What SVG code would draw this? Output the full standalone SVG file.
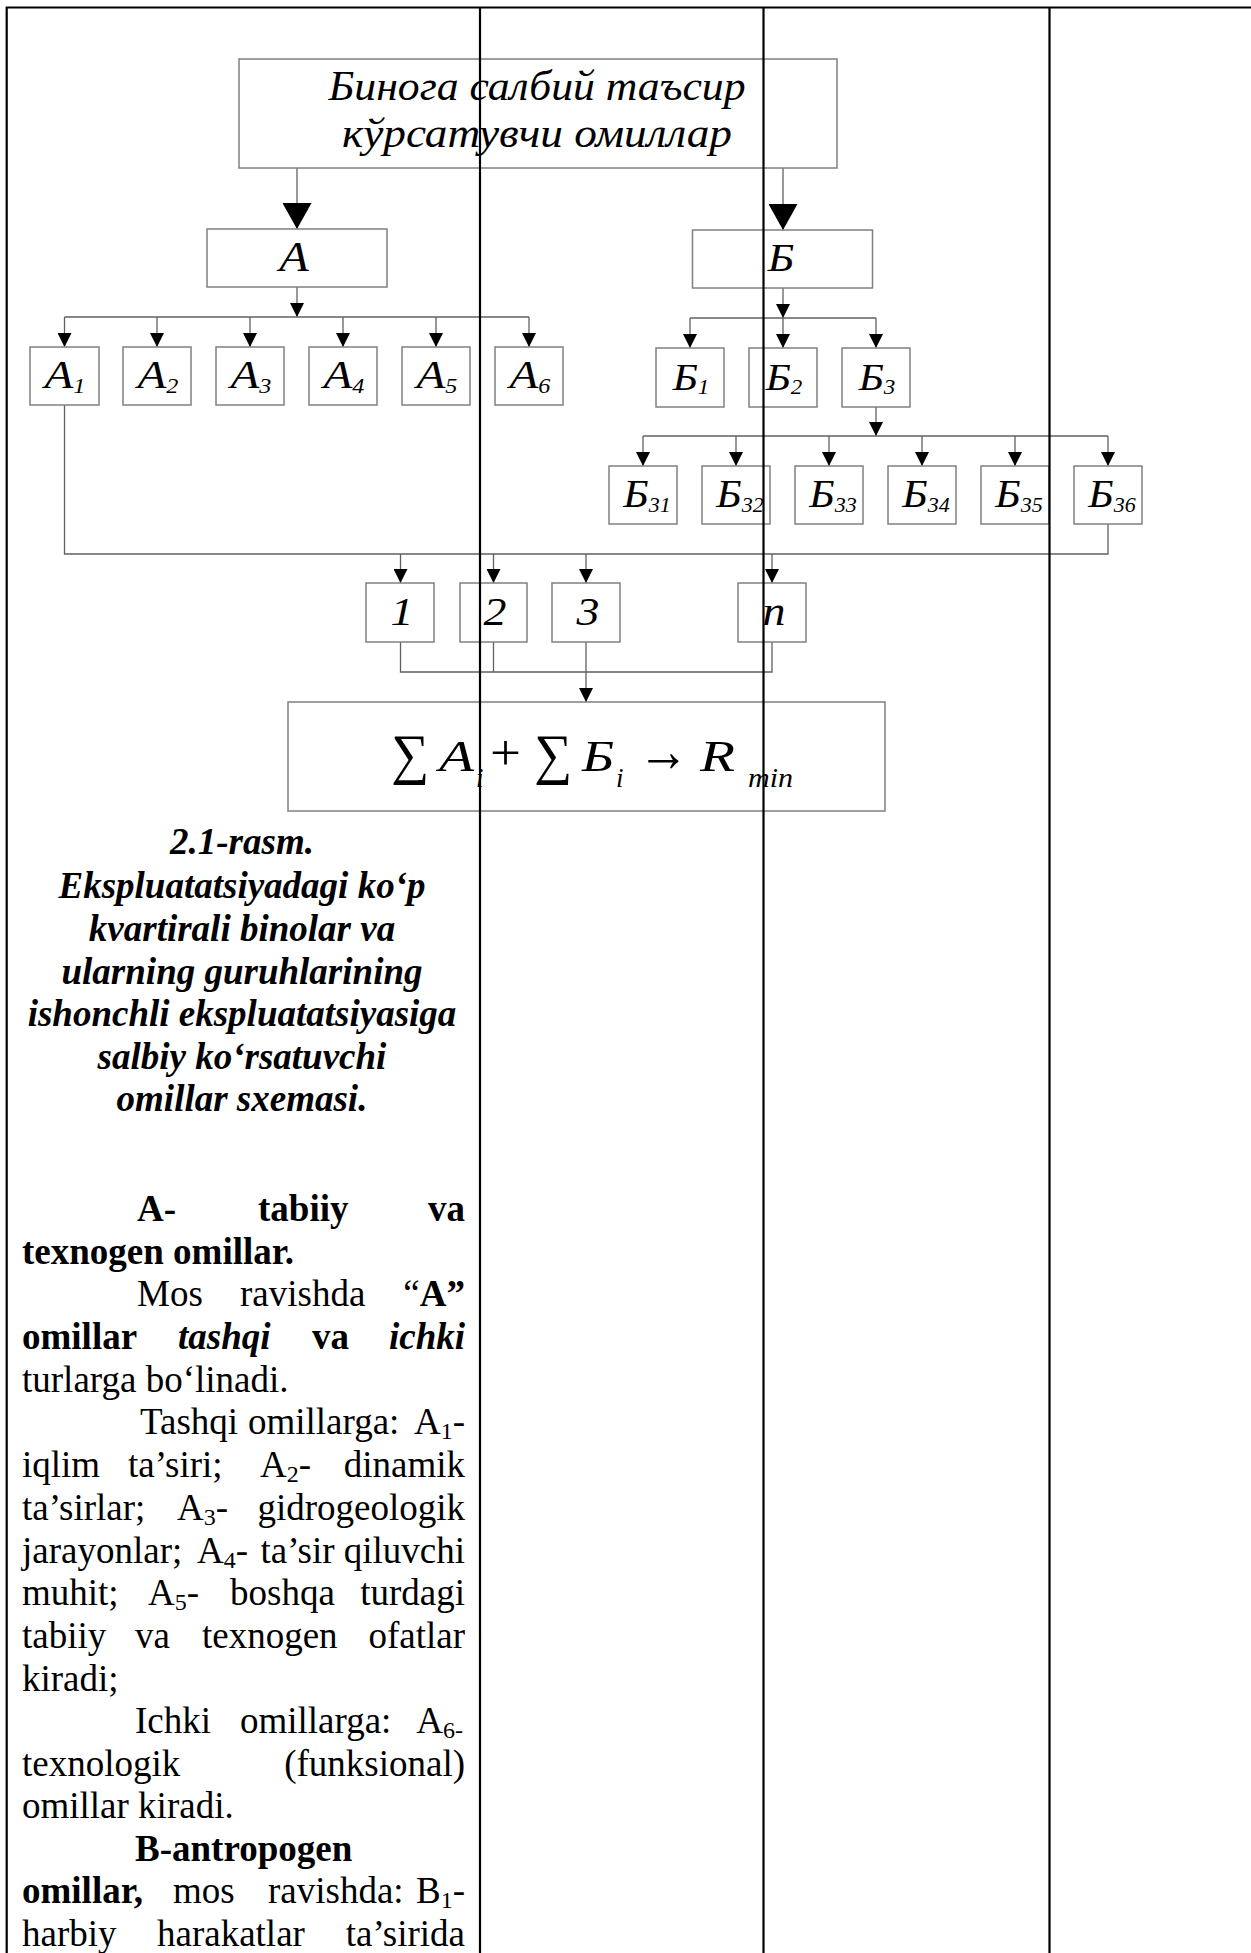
<svg xmlns="http://www.w3.org/2000/svg" width="1251" height="1953" viewBox="0 0 1251 1953">
<style>
.box{fill:#fff;stroke:#808080;stroke-width:1.5}
.con{fill:none;stroke:#606060;stroke-width:1.3}
.grid{fill:none;stroke:#000;stroke-width:2.2}
.lbl{font-family:"Liberation Serif","Times New Roman",serif;font-style:italic;fill:#000}
.mid{text-anchor:middle}
.cap{font-family:"Liberation Serif","Times New Roman",serif;font-size:37px;font-weight:bold;font-style:italic;text-anchor:middle;fill:#000}
.body{font-family:"Liberation Serif","Times New Roman",serif;font-size:37px;fill:#000}
.b{font-weight:bold}
.i{font-style:italic}
.e{text-anchor:end}
.sym{font-family:"Liberation Serif","DejaVu Serif",serif;fill:#000}
</style>
<defs>
<marker id="sa" viewBox="0 0 14 14" refX="14" refY="7" markerWidth="14" markerHeight="14" markerUnits="userSpaceOnUse" orient="auto"><path d="M0,0 L14,7 L0,14 z" fill="#000"/></marker>
<marker id="ba" viewBox="0 0 26 29" refX="26" refY="14.5" markerWidth="26" markerHeight="29" markerUnits="userSpaceOnUse" orient="auto"><path d="M0,0 L26,14.5 L0,29 z" fill="#000"/></marker>
</defs>

<g id="connectors">
<path class="con" d="M297,168 V229" marker-end="url(#ba)"/>
<path class="con" d="M783,168 V230" marker-end="url(#ba)"/>
<path class="con" d="M297,287 V317" marker-end="url(#sa)"/>
<path class="con" d="M64.5,317 H529"/>
<path class="con" d="M64.5,317 V347" marker-end="url(#sa)"/>
<path class="con" d="M157,317 V347" marker-end="url(#sa)"/>
<path class="con" d="M250,317 V347" marker-end="url(#sa)"/>
<path class="con" d="M343,317 V347" marker-end="url(#sa)"/>
<path class="con" d="M436,317 V347" marker-end="url(#sa)"/>
<path class="con" d="M529,317 V347" marker-end="url(#sa)"/>
<path class="con" d="M783,288 V318" marker-end="url(#sa)"/>
<path class="con" d="M690,318 H876"/>
<path class="con" d="M690,318 V348" marker-end="url(#sa)"/>
<path class="con" d="M783,318 V348" marker-end="url(#sa)"/>
<path class="con" d="M876,318 V348" marker-end="url(#sa)"/>
<path class="con" d="M876,407 V436" marker-end="url(#sa)"/>
<path class="con" d="M643,436 H1108"/>
<path class="con" d="M643,436 V466" marker-end="url(#sa)"/>
<path class="con" d="M736,436 V466" marker-end="url(#sa)"/>
<path class="con" d="M829,436 V466" marker-end="url(#sa)"/>
<path class="con" d="M922,436 V466" marker-end="url(#sa)"/>
<path class="con" d="M1015,436 V466" marker-end="url(#sa)"/>
<path class="con" d="M1108,436 V466" marker-end="url(#sa)"/>
<path class="con" d="M64.5,405 V554 H1108 V524"/>
<path class="con" d="M400.5,554 V583" marker-end="url(#sa)"/>
<path class="con" d="M493.5,554 V583" marker-end="url(#sa)"/>
<path class="con" d="M586,554 V583" marker-end="url(#sa)"/>
<path class="con" d="M772,554 V583" marker-end="url(#sa)"/>
<path class="con" d="M400.5,642 V672 H772 V642 M493.5,642 V672"/>
<path class="con" d="M586,642 V702" marker-end="url(#sa)"/>
</g>

<g id="node-top">
<rect class="box" x="239" y="59" width="598" height="109"/>
<text class="lbl mid" x="537" y="100" font-size="43" textLength="417" lengthAdjust="spacingAndGlyphs">Бинога салбий таъсир</text>
<text class="lbl mid" x="537" y="147" font-size="43" textLength="390" lengthAdjust="spacingAndGlyphs">кўрсатувчи омиллар</text>
</g>
<g id="node-A">
<rect class="box" x="207" y="229" width="180" height="58"/>
<text class="lbl mid" font-size="42" transform="translate(294,271) scale(1.15,1)">А</text>
</g>
<g id="node-B">
<rect class="box" x="692.5" y="230" width="180" height="58"/>
<text class="lbl mid" font-size="40" transform="translate(781,271) scale(1.12,1)">Б</text>
</g>

<g id="node-A1"><rect class="box" x="30" y="347" width="69" height="58"/><text class="lbl mid" font-size="41" transform="translate(65,388) scale(1.15,1)">А<tspan font-size="21" dy="5">1</tspan></text></g>
<g id="node-A2"><rect class="box" x="123" y="347" width="68" height="58"/><text class="lbl mid" font-size="41" transform="translate(158,388) scale(1.15,1)">А<tspan font-size="21" dy="5">2</tspan></text></g>
<g id="node-A3"><rect class="box" x="216" y="347" width="68" height="58"/><text class="lbl mid" font-size="41" transform="translate(251,388) scale(1.15,1)">А<tspan font-size="21" dy="5">3</tspan></text></g>
<g id="node-A4"><rect class="box" x="309" y="347" width="68" height="58"/><text class="lbl mid" font-size="41" transform="translate(344,388) scale(1.15,1)">А<tspan font-size="21" dy="5">4</tspan></text></g>
<g id="node-A5"><rect class="box" x="402" y="347" width="68" height="58"/><text class="lbl mid" font-size="41" transform="translate(437,388) scale(1.15,1)">А<tspan font-size="21" dy="5">5</tspan></text></g>
<g id="node-A6"><rect class="box" x="495" y="347" width="68" height="58"/><text class="lbl mid" font-size="41" transform="translate(530,388) scale(1.15,1)">А<tspan font-size="21" dy="5">6</tspan></text></g>

<g id="node-B1"><rect class="box" x="656" y="348" width="68" height="59"/><text class="lbl mid" font-size="37" transform="translate(691,390) scale(1.15,1)">Б<tspan font-size="20" dy="4">1</tspan></text></g>
<g id="node-B2"><rect class="box" x="749" y="348" width="68" height="59"/><text class="lbl mid" font-size="37" transform="translate(784,390) scale(1.15,1)">Б<tspan font-size="20" dy="4">2</tspan></text></g>
<g id="node-B3"><rect class="box" x="842" y="348" width="68" height="59"/><text class="lbl mid" font-size="37" transform="translate(877,390) scale(1.15,1)">Б<tspan font-size="20" dy="4">3</tspan></text></g>

<g id="node-B31"><rect class="box" x="609" y="466" width="68" height="58"/><text class="lbl mid" font-size="39" transform="translate(647,507) scale(1.1,1)">Б<tspan font-size="20" dy="5">31</tspan></text></g>
<g id="node-B32"><rect class="box" x="702" y="466" width="68" height="58"/><text class="lbl mid" font-size="39" transform="translate(740,507) scale(1.1,1)">Б<tspan font-size="20" dy="5">32</tspan></text></g>
<g id="node-B33"><rect class="box" x="795" y="466" width="68" height="58"/><text class="lbl mid" font-size="39" transform="translate(833,507) scale(1.1,1)">Б<tspan font-size="20" dy="5">33</tspan></text></g>
<g id="node-B34"><rect class="box" x="888" y="466" width="68" height="58"/><text class="lbl mid" font-size="39" transform="translate(926,507) scale(1.1,1)">Б<tspan font-size="20" dy="5">34</tspan></text></g>
<g id="node-B35"><rect class="box" x="981" y="466" width="68" height="58"/><text class="lbl mid" font-size="39" transform="translate(1019,507) scale(1.1,1)">Б<tspan font-size="20" dy="5">35</tspan></text></g>
<g id="node-B36"><rect class="box" x="1074" y="466" width="68" height="58"/><text class="lbl mid" font-size="39" transform="translate(1112,507) scale(1.1,1)">Б<tspan font-size="20" dy="5">36</tspan></text></g>

<g id="node-1"><rect class="box" x="366" y="583" width="68" height="59"/><text class="lbl mid" font-size="41" transform="translate(402,625) scale(1.12,1)">1</text></g>
<g id="node-2"><rect class="box" x="460" y="583" width="67" height="59"/><text class="lbl mid" font-size="41" transform="translate(495,625) scale(1.12,1)">2</text></g>
<g id="node-3"><rect class="box" x="552" y="583" width="68" height="59"/><text class="lbl mid" font-size="41" transform="translate(588,625) scale(1.12,1)">3</text></g>
<g id="node-n"><rect class="box" x="738" y="583" width="68" height="59"/><text class="lbl mid" font-size="41" transform="translate(774,625) scale(1.12,1)">n</text></g>

<g id="node-result">
<rect class="box" x="288" y="702" width="597" height="109"/>
<text class="sym" x="391" y="773" font-size="56" textLength="38" lengthAdjust="spacingAndGlyphs">∑</text>
<text class="lbl" x="439" y="771" font-size="44" textLength="35" lengthAdjust="spacingAndGlyphs">A</text>
<text class="lbl" x="476" y="787" font-size="27">i</text>
<text class="sym" x="490" y="770" font-size="50" textLength="31" lengthAdjust="spacingAndGlyphs">+</text>
<text class="sym" x="534" y="773" font-size="56" textLength="38" lengthAdjust="spacingAndGlyphs">∑</text>
<text class="lbl" x="582" y="771" font-size="44" textLength="32" lengthAdjust="spacingAndGlyphs">Б</text>
<text class="lbl" x="616" y="787" font-size="27">i</text>
<text class="sym" x="638" y="771" font-size="60" textLength="51" lengthAdjust="spacingAndGlyphs">→</text>
<text class="lbl" x="700" y="771" font-size="44" textLength="35" lengthAdjust="spacingAndGlyphs">R</text>
<text class="lbl" x="748" y="787" font-size="27" textLength="45" lengthAdjust="spacingAndGlyphs">min</text>
</g>

<g id="caption">
<text class="cap" x="242" y="854">2.1-rasm.</text>
<text class="cap" x="242" y="898">Ekspluatatsiyadagi ko‘p</text>
<text class="cap" x="242" y="941">kvartirali binolar va</text>
<text class="cap" x="242" y="984">ularning guruhlarining</text>
<text class="cap" x="242" y="1026">ishonchli ekspluatatsiyasiga</text>
<text class="cap" x="242" y="1069">salbiy ko‘rsatuvchi</text>
<text class="cap" x="242" y="1111">omillar sxemasi.</text>
</g>

<g id="body-text" class="body">
<text class="b" x="137" y="1221">A-</text><text class="b" x="258" y="1221">tabiiy</text><text class="b e" x="465" y="1221">va</text>
<text class="b" x="22" y="1264">texnogen omillar.</text>
<text x="137" y="1306">Mos</text><text x="240" y="1306">ravishda</text><text class="e" x="465" y="1306">“<tspan class="b">A”</tspan></text>
<text class="b" x="22" y="1349">omillar</text><text class="b i" x="178" y="1349">tashqi</text><text class="b" x="312" y="1349">va</text><text class="b i e" x="465" y="1349">ichki</text>
<text x="22" y="1392">turlarga bo‘linadi.</text>
<text x="140" y="1434">Tashqi</text><text x="248" y="1434">omillarga:</text><text class="e" x="465" y="1434">A<tspan font-size="24" dy="5">1</tspan><tspan dy="-5">-</tspan></text>
<text x="22" y="1477">iqlim</text><text x="128" y="1477">ta’siri;</text><text x="260" y="1477">A<tspan font-size="24" dy="5">2</tspan><tspan dy="-5">-</tspan></text><text class="e" x="465" y="1477">dinamik</text>
<text x="22" y="1520">ta’sirlar;</text><text x="177" y="1520">A<tspan font-size="24" dy="5">3</tspan><tspan dy="-5">-</tspan></text><text class="e" x="465" y="1520">gidrogeologik</text>
<text x="22" y="1563">jarayonlar;</text><text x="197" y="1563">A<tspan font-size="24" dy="5">4</tspan><tspan dy="-5">-</tspan></text><text class="e" x="465" y="1563">ta’sir qiluvchi</text>
<text x="22" y="1605">muhit;</text><text x="148" y="1605">A<tspan font-size="24" dy="5">5</tspan><tspan dy="-5">-</tspan></text><text x="230" y="1605">boshqa</text><text class="e" x="465" y="1605">turdagi</text>
<text x="22" y="1648">tabiiy</text><text x="135" y="1648">va</text><text x="202" y="1648">texnogen</text><text class="e" x="465" y="1648">ofatlar</text>
<text x="22" y="1691">kiradi;</text>
<text x="135" y="1733">Ichki</text><text x="240" y="1733">omillarga:</text><text class="e" x="463" y="1733">A<tspan font-size="24" dy="5">6-</tspan></text>
<text x="22" y="1776">texnologik</text><text class="e" x="465" y="1776">(funksional)</text>
<text x="22" y="1818">omillar kiradi.</text>
<text class="b" x="135" y="1861">B-antropogen</text>
<text class="b" x="22" y="1903">omillar,</text><text x="173" y="1903">mos</text><text x="268" y="1903">ravishda:</text><text class="e" x="465" y="1903">B<tspan font-size="24" dy="5">1</tspan><tspan dy="-5">-</tspan></text>
<text x="22" y="1946">harbiy</text><text x="157" y="1946">harakatlar</text><text class="e" x="465" y="1946">ta’sirida</text>
</g>

<g id="table-lines">
<path class="grid" d="M6.7,1953 V7.5 H1251 M480,7.5 V1953 M763.5,7.5 V1953 M1049.5,7.5 V1953"/>
</g>
</svg>
